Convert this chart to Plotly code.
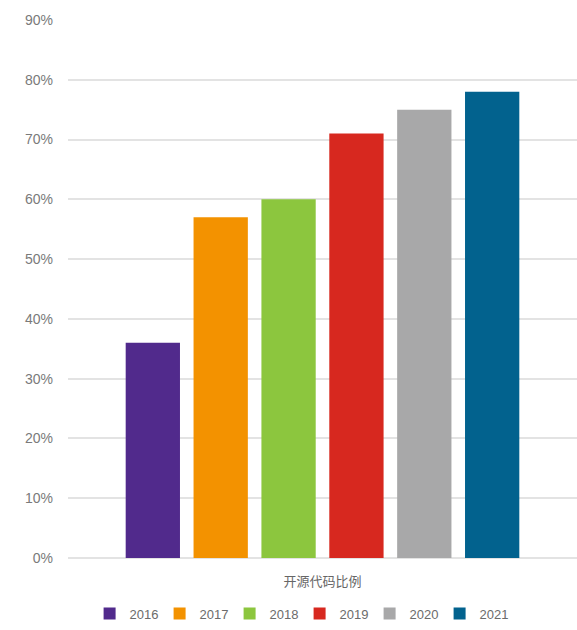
import plotly.graph_objects as go

category = ["开源代码比例"]
years = ["2016", "2017", "2018", "2019", "2020", "2021"]
values = [0.36, 0.57, 0.60, 0.71, 0.75, 0.78]
colors = ["#512A8C", "#F39200", "#8CC63E", "#D7281F", "#A8A8A9", "#02628E"]
y_ticks = [0.0, 0.1, 0.2, 0.3, 0.4, 0.5, 0.6, 0.7, 0.8, 0.9]

fig = go.Figure()
for yr, v, c in zip(years, values, colors):
    fig.add_trace(go.Bar(name=yr, x=category, y=[v], marker=dict(color=c, line=dict(width=0))))

fig.update_layout(
    width=577, height=630,
    margin=dict(l=68, r=0, t=20, b=72),
    paper_bgcolor="white", plot_bgcolor="white",
    barmode="group", bargap=0.2, bargroupgap=0.2,
    font=dict(family="Liberation Sans, Arial, Noto Sans CJK SC, sans-serif", color="#6b6b6b", size=13),
    showlegend=True,
    legend=dict(orientation="h", x=0.455, xanchor="center", y=-0.131, yanchor="bottom",
                font=dict(size=13, color="#6b6b6b"), entrywidth=25, entrywidthmode="pixels",
                itemwidth=30, traceorder="normal"),
    xaxis=dict(showgrid=False, showline=False, ticks="", ticklabelstandoff=14, automargin=False,
               tickfont=dict(size=13, color="#666666", family="Noto Sans CJK SC, sans-serif")),
    yaxis=dict(range=[0, 0.9], tickvals=y_ticks, tickformat=".0%", showgrid=True,
               gridcolor="#e3e3e3", gridwidth=1.5, zeroline=True, zerolinecolor="#e3e3e3",
               zerolinewidth=1.5, showline=False, ticks="", ticklabelstandoff=14,
               tickfont=dict(size=14, color="#7a7a7a")),
)

fig.write_html("out.html")
